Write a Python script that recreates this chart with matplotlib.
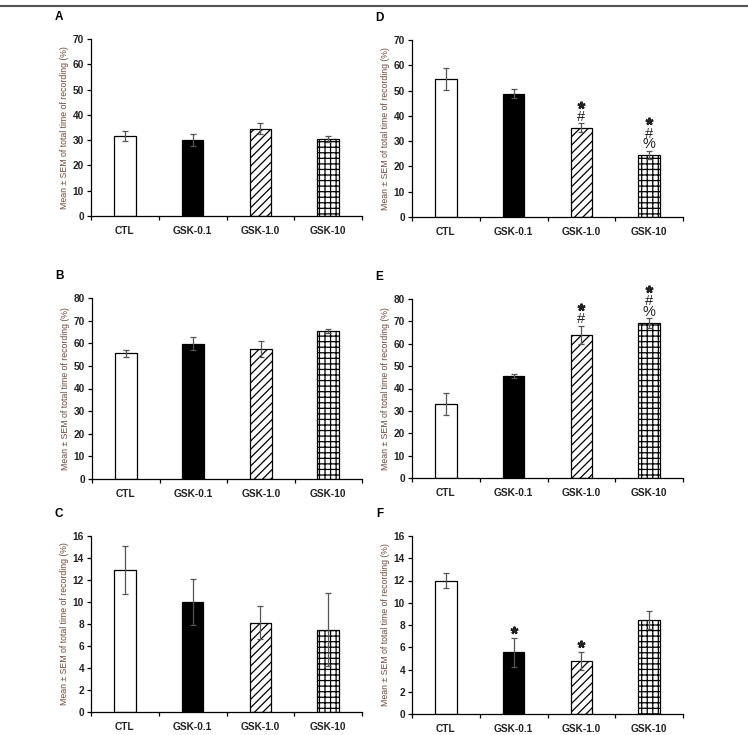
import matplotlib
matplotlib.use("Agg")
import matplotlib.pyplot as plt
from matplotlib.lines import Line2D
from matplotlib.transforms import offset_copy
import numpy as np

plt.rcParams["font.family"] = ["Liberation Sans", "DejaVu Sans"]
plt.rcParams["hatch.linewidth"] = 0.9

groups = ["CTL", "GSK-0.1", "GSK-1.0", "GSK-10"]

# panel values (mean, SEM)
a_mean = [31.6, 30.1, 34.6, 30.5]
a_sem = [2.0, 2.4, 2.1, 1.1]
b_mean = [55.5, 59.8, 57.4, 65.3]
b_sem = [1.6, 2.9, 3.4, 0.9]
c_mean = [12.9, 10.0, 8.1, 7.5]
c_sem = [2.2, 2.1, 1.5, 3.3]
d_mean = [54.6, 48.8, 35.3, 24.5]
d_sem = [4.5, 1.7, 1.7, 1.7]
e_mean = [33.2, 45.6, 63.9, 69.1]
e_sem = [5.0, 0.9, 4.2, 2.2]
f_mean = [12.0, 5.55, 4.78, 8.45]
f_sem = [0.65, 1.3, 0.8, 0.85]

# significance marks, top to bottom (star drawn as asterisk marker)
d_marks = [[], [], ["*", "#"], ["*", "#", "%"]]
e_marks = [[], [], ["*", "#"], ["*", "#", "%"]]
f_marks = [[], ["*"], ["*"], []]
no_marks = [[], [], [], []]

W, H = 748, 735
fig = plt.figure(figsize=(W / 100, H / 100), dpi=100)

fills = ["white", "black", "white", "white"]
hatches = [None, None, "////", "+++"]


def px_axes(left, right, top, bottom):
    return fig.add_axes([left / W, 1 - bottom / H, (right - left) / W, (bottom - top) / H])


def panel(box, letter, means, sems, ymax, ystep, marks):
    ax = px_axes(*box)
    x = np.arange(len(groups))
    ax.bar(x, means, width=0.32, color=fills, edgecolor="black", hatch=hatches,
           linewidth=0.9, zorder=2)
    ax.errorbar(x, means, yerr=sems, fmt="none", ecolor="#555555", elinewidth=0.9,
                capsize=2.5, capthick=0.9, zorder=3)
    for xi, m, s, syms in zip(x, means, sems, marks):
        rest = [t for t in syms if t != "*"]
        if rest:
            ax.annotate("\n".join(rest), xy=(xi, m + s), xytext=(0, -0.5),
                        textcoords="offset points", ha="center", va="bottom",
                        fontsize=10.5, linespacing=0.7, color="#222222")
        if "*" in syms:
            tr = offset_copy(ax.transData, fig=fig, x=0, y=5.5 + 8 * len(rest),
                             units="points")
            ax.plot([xi], [m + s], marker=(5, 2, 0), ms=5.5, mew=1.6,
                    color="#222222", transform=tr, clip_on=False, zorder=4)
    ax.set_xlim(-0.5, 3.5)
    ax.set_ylim(0, ymax)
    ticks = np.arange(0, ymax + 0.1, ystep)
    ax.set_yticks(ticks)
    ax.set_yticklabels([f"{v:g}" for v in ticks], fontsize=7.3, fontweight="bold",
                       color="#222222")
    ax.set_xticks(x)
    ax.set_xticklabels(groups, fontsize=7.3, fontweight="bold", color="#222222")
    ax.set_xticks(np.arange(-0.5, 4, 1), minor=True)
    ax.tick_params(axis="x", which="major", length=0, pad=7)
    ax.tick_params(axis="x", which="minor", length=3, direction="out", width=0.9)
    ax.tick_params(axis="y", length=3, direction="out", width=0.9, pad=2)
    for s in ["top", "right"]:
        ax.spines[s].set_visible(False)
    for s in ["left", "bottom"]:
        ax.spines[s].set_linewidth(0.9)
    ax.set_ylabel("Mean \u00b1 SEM of total time of recording (%)", fontsize=6.3,
                  color="#6b4a3a", labelpad=3)
    ax.text(-0.12, 1.09, letter, transform=ax.transAxes, fontsize=8.5,
            fontweight="bold", ha="center", va="bottom")
    return ax


panel((91, 362, 39, 216), "A", a_mean, a_sem, 70, 10, no_marks)
panel((412, 683, 40, 217), "D", d_mean, d_sem, 70, 10, d_marks)
panel((92, 362, 298, 479), "B", b_mean, b_sem, 80, 10, no_marks)
panel((412, 683, 299, 478), "E", e_mean, e_sem, 80, 10, e_marks)
panel((91, 362, 536, 712), "C", c_mean, c_sem, 16, 2, no_marks)
panel((412, 683, 536, 714), "F", f_mean, f_sem, 16, 2, f_marks)

fig.add_artist(Line2D([0, 1], [1 - 6 / H, 1 - 6 / H], color="#555555", linewidth=1.5))

fig.savefig("out.png", dpi=100)
